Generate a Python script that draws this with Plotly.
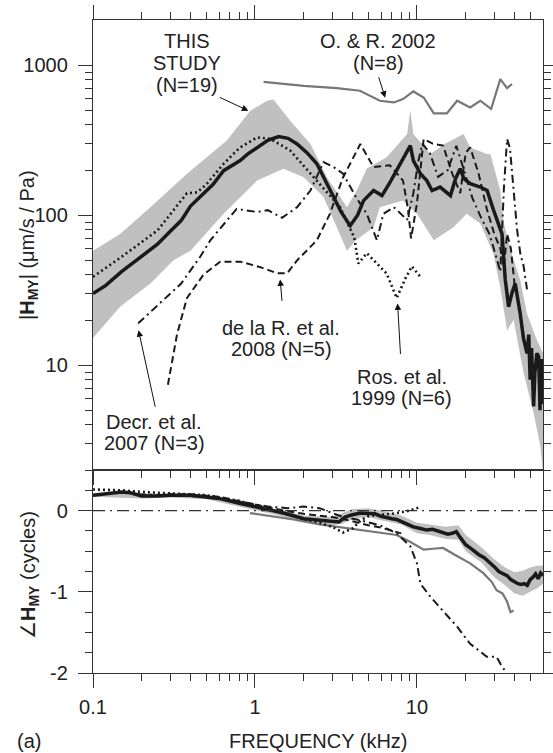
import math
import plotly.graph_objects as go

# ---------------- data ----------------
# THIS STUDY (N=19) magnitude mean
main_f = [0.1, 0.12, 0.15, 0.2, 0.25, 0.3, 0.35, 0.4, 0.46, 0.55, 0.64, 0.72, 0.81, 0.9, 1.03, 1.2, 1.4, 1.6,
          1.82, 2.1, 2.41, 2.7, 3.06, 3.4, 3.87, 4.3, 4.68, 5.4, 6.08, 6.8, 7.5, 8.3, 9.1, 9.5, 10.5, 11.5, 12.4,
          13.9, 16.1, 17.3, 18.5, 19.5, 21.3, 24.6, 27.1, 29.7, 33.5, 35.1, 36.8, 38.5, 40.4, 43.4, 45.5, 47.8,
          49, 50, 51, 52.5, 53.5, 55, 56.4, 57.5, 58.5, 60]
main_v = [30, 34, 42, 53, 64, 78, 92, 115, 132, 160, 198, 215, 231, 255, 283, 315, 334, 325,
          298, 260, 220, 170, 132, 105, 85, 100, 125, 146, 135, 165, 198, 240, 291, 231, 189, 170, 146,
          154, 135, 175, 204, 175, 162, 154, 146, 108, 75, 37, 24.5, 30, 35, 22, 15, 12,
          16, 8, 13, 5.3, 9, 12, 11.4, 5, 11, 5.5]
# THIS STUDY spread (upper / lower boundary)
band_up_f = [0.1, 0.147, 0.226, 0.38, 0.67, 0.935, 1.19, 1.3, 1.65, 2.2, 2.78, 3.7, 4.3, 4.9, 6.5, 8.7, 9.1, 9.5,
             12.1, 15, 19.4, 21.3, 27.1, 28.4, 32.7, 34.4, 39.5, 43.4, 47.8, 55, 60]
band_up_v = [58, 75, 113, 189, 314, 497, 579, 590, 426, 298, 179, 113, 150, 205, 243, 348, 500, 348,
             256, 300, 348, 283, 256, 256, 146, 88, 50, 37, 22, 14.7, 12]
band_lo_f = [0.1, 0.147, 0.226, 0.314, 0.4, 0.64, 1.03, 1.5, 2.0, 2.65, 3.2, 3.7, 4.2, 5.4, 5.9, 8.2, 10, 12.7,
             16.8, 20.3, 24.6, 29.7, 32.7, 36, 39.5, 45.5, 52.5, 57.7, 60]
band_lo_v = [15.2, 24.5, 35, 50, 58, 102, 170, 204, 179, 132, 83, 58, 68, 83, 113, 125, 102, 68,
             83, 102, 88, 55, 33, 17, 20, 8.9, 4.8, 2.9, 1.9]
# Ros. et al. 1999 (N=6)
ros_f = [0.1, 0.15, 0.25, 0.38, 0.44, 0.5, 0.64, 0.8, 1.03, 1.24, 1.65, 2.41, 3.35, 4.1, 4.35, 4.9, 6.5, 7.5,
         8.5, 9.3, 10.5]
ros_v = [38.8, 52.7, 79, 140, 142, 160, 220, 280, 330, 323, 270, 170, 113, 71, 47.6, 55.8, 40.8, 28,
         38, 45.6, 38.8]
# de la R. et al. 2008 (N=5)
dlr_f = [0.29, 0.33, 0.38, 0.48, 0.61, 0.81, 1.08, 1.37, 1.58, 1.82, 2.41, 2.9, 3.5, 4.47, 5.4, 6.8, 8.2, 8.8,
         9.2, 10.0, 11.0, 12.5, 14.5, 16.5, 18.5, 20.0, 21.3, 24, 27, 30, 32.7, 34.4, 36, 38, 40]
dlr_v = [7.4, 16, 28, 40, 49, 49, 45, 41, 41, 50, 68, 102, 179, 298, 209, 215, 170, 110,
         70, 120, 322, 300, 291, 190, 140, 260, 283, 190, 110, 75, 60, 45, 75, 60, 35]
# Decr. et al. 2007 (N=3)
dec_f = [0.19, 0.25, 0.35, 0.46, 0.53, 0.77, 1.03, 1.2, 1.47, 1.82, 2.2, 2.65, 3.06, 3.5, 4.2, 4.9, 5.66, 6.2,
         7.2, 8.7, 9.5, 10.2, 10.8, 12, 13.5, 15.5, 17.5, 19.5, 22, 25, 28, 30.5, 32.7, 34.4, 36, 37.5, 39.5,
         41.5, 43.5, 45.5, 47.8]
dec_v = [19, 25, 35, 53, 68, 110, 105, 108, 96, 113, 146, 226, 209, 189, 132, 102, 68, 102,
         113, 93, 140, 230, 300, 260, 180, 200, 290, 200, 130, 95, 75, 55, 42, 150, 322, 280, 146,
         80, 55, 46, 32]
# O. & R. 2002 (N=8)
oar_f = [1.13, 1.25, 2.0, 3.2, 4.45, 5.9, 7.2, 8.2, 9.5, 11, 12.7, 15.3, 17.7, 21.3, 24.6, 26.1, 28.7, 32.7,
         36, 38.6]
oar_v = [774, 766, 728, 703, 675, 579, 564, 594, 668, 609, 477, 477, 579, 522, 579, 551, 510, 807,
         703, 748]

# ---- phase (cycles) ----
ph_f = [0.1, 0.12, 0.15, 0.17, 0.2, 0.25, 0.3, 0.4, 0.5, 0.6, 0.8, 1.0, 1.2, 1.5, 2.0, 2.5, 3.0, 3.3, 3.6, 4.0,
        4.5, 5.0, 5.5, 6.0, 6.5, 7.0, 7.5, 8.5, 9.5, 10.5, 11.5, 12.5, 14, 15.5, 16.5, 17.5, 18.5, 20, 22, 24,
        26, 28, 30, 32, 34, 36, 38, 40, 42, 44, 46, 48, 50, 52, 54, 56, 58, 60]
ph_v = [0.19, 0.21, 0.23, 0.22, 0.18, 0.18, 0.19, 0.19, 0.17, 0.15, 0.09, 0.05, 0.01, -0.03, -0.1, -0.12,
        -0.13, -0.14, -0.08, -0.05, -0.03, -0.03, -0.04, -0.07, -0.08, -0.1, -0.11, -0.16, -0.2, -0.22,
        -0.24, -0.23, -0.26, -0.29, -0.28, -0.26, -0.33, -0.42, -0.48, -0.54, -0.58, -0.63, -0.69, -0.75,
        -0.77, -0.8, -0.85, -0.88, -0.9, -0.91, -0.9, -0.92, -0.85, -0.82, -0.78, -0.84, -0.77, -0.8]
phb_f = [0.1, 0.2, 0.3, 0.5, 0.8, 1.2, 2.0, 3.0, 3.5, 4.0, 5.0, 6.0, 8.0, 10, 12, 15, 18, 20, 25, 30, 35, 40,
         45, 50, 55, 60]
phb_up = [0.21, 0.21, 0.21, 0.19, 0.12, 0.04, -0.06, -0.08, -0.03, 0.02, 0.03, 0.0, -0.06, -0.15, -0.17,
          -0.2, -0.18, -0.3, -0.45, -0.6, -0.7, -0.76, -0.74, -0.7, -0.68, -0.68]
phb_lo = [0.17, 0.15, 0.16, 0.14, 0.05, -0.03, -0.14, -0.18, -0.16, -0.1, -0.08, -0.12, -0.17, -0.28,
          -0.3, -0.35, -0.36, -0.5, -0.64, -0.82, -0.92, -1.02, -1.05, -1.0, -0.96, -0.9]
ros_ph_f = [0.1, 0.15, 0.2, 0.3, 0.5, 0.8, 1.2, 1.8, 2.5, 3.0, 3.5, 4.0, 4.5, 5.0, 6.0, 7.0, 8.0, 9.0, 10.0,
            10.5]
ros_ph_v = [0.26, 0.25, 0.23, 0.21, 0.19, 0.12, 0.02, -0.08, -0.15, -0.2, -0.27, -0.22, -0.12, -0.07,
            -0.05, -0.04, -0.02, 0.0, 0.03, 0.04]
dlr_ph_f = [0.29, 0.4, 0.6, 1.0, 1.5, 2.0, 3.0, 4.0, 5.0, 6.0, 7.0, 8.0]
dlr_ph_v = [0.2, 0.2, 0.17, 0.08, 0.0, -0.04, -0.08, -0.13, -0.18, -0.21, -0.25, -0.28]
dec_ph_f = [0.19, 0.3, 0.5, 0.8, 1.2, 1.6, 2.0, 2.5, 3.0, 3.5, 4.5, 5.9, 7.5, 9.1, 10, 10.5, 12.1, 14.5, 17.7,
            21.3, 27, 31, 33.7, 36]
dec_ph_v = [0.2, 0.19, 0.17, 0.11, 0.05, 0.03, 0.05, 0.03, -0.03, -0.08, -0.12, -0.18, -0.28, -0.44, -0.65,
            -0.9, -1.06, -1.23, -1.43, -1.64, -1.8, -1.8, -1.93, -2.0]
oar_ph_f = [0.93, 1.3, 1.73, 2.5, 3.5, 5, 7.5, 9, 11, 12.5, 14.5, 17, 21.3, 25.7, 29, 31, 33.7, 36, 37.8, 39.5]
oar_ph_v = [-0.03, -0.07, -0.11, -0.17, -0.21, -0.25, -0.3, -0.38, -0.48, -0.47, -0.46, -0.54, -0.65, -0.77,
            -0.88, -0.98, -1.02, -1.12, -1.25, -1.23]

x_ticks = [0.1, 1, 10]
x_ticktext = ["0.1", "1", "10"]
x_minor = [0.2, 0.3, 0.4, 0.5, 0.6, 0.7, 0.8, 0.9, 2, 3, 4, 5, 6, 7, 8, 9, 20, 30, 40, 50]
mag_ticks = [10, 100, 1000]
mag_minor = [2, 3, 4, 5, 6, 7, 8, 9, 20, 30, 40, 50, 60, 70, 80, 90, 200, 300, 400, 500, 600, 700, 800, 900]
ph_ticks = [-2, -1, 0]
ph_minor = [-1.75, -1.5, -1.25, -0.75, -0.5, -0.25, 0.25]

# ---------------- figure ----------------
W, H = 553, 753
ML, MR, MT, MB = 93, 10, 20, 80
PW, PH = W - ML - MR, H - MT - MB
split = (673 - 470) / PH

FONT = "Liberation Sans, Arial, Helvetica, sans-serif"
FS = 20
TXT = "#222222"
BAND = "#c0c0c0"
BLK = "#1a1a1a"

fig = go.Figure()

# magnitude band
fig.add_trace(go.Scatter(x=band_up_f + band_lo_f[::-1], y=band_up_v + band_lo_v[::-1], fill="toself",
                         fillcolor=BAND, line=dict(width=0), mode="lines", hoverinfo="skip",
                         xaxis="x", yaxis="y"))
fig.add_trace(go.Scatter(x=oar_f, y=oar_v, mode="lines", line=dict(color="#777777", width=2.2),
                         xaxis="x", yaxis="y"))
fig.add_trace(go.Scatter(x=dlr_f, y=dlr_v, mode="lines", line=dict(color=BLK, width=2, dash="7px,4px"),
                         xaxis="x", yaxis="y"))
fig.add_trace(go.Scatter(x=dec_f, y=dec_v, mode="lines",
                         line=dict(color=BLK, width=2, dash="8px,4px,2px,4px"), xaxis="x", yaxis="y"))
fig.add_trace(go.Scatter(x=ros_f, y=ros_v, mode="lines", line=dict(color=BLK, width=2.6, dash="2px,3px"),
                         xaxis="x", yaxis="y"))
fig.add_trace(go.Scatter(x=main_f, y=main_v, mode="lines", line=dict(color=BLK, width=3.5),
                         xaxis="x", yaxis="y"))

# phase
fig.add_trace(go.Scatter(x=phb_f + phb_f[::-1], y=phb_up + phb_lo[::-1], fill="toself", fillcolor=BAND,
                         line=dict(width=0), mode="lines", hoverinfo="skip", xaxis="x2", yaxis="y2"))
fig.add_trace(go.Scatter(x=oar_ph_f, y=oar_ph_v, mode="lines", line=dict(color="#777777", width=2.2),
                         xaxis="x2", yaxis="y2"))
fig.add_trace(go.Scatter(x=dlr_ph_f, y=dlr_ph_v, mode="lines", line=dict(color=BLK, width=2, dash="7px,4px"),
                         xaxis="x2", yaxis="y2"))
fig.add_trace(go.Scatter(x=dec_ph_f, y=dec_ph_v, mode="lines",
                         line=dict(color=BLK, width=2, dash="8px,4px,2px,4px"), xaxis="x2", yaxis="y2"))
fig.add_trace(go.Scatter(x=ros_ph_f, y=ros_ph_v, mode="lines", line=dict(color=BLK, width=2.6, dash="2px,3px"),
                         xaxis="x2", yaxis="y2"))
fig.add_trace(go.Scatter(x=ph_f, y=ph_v, mode="lines", line=dict(color=BLK, width=3.5),
                         xaxis="x2", yaxis="y2"))

axcommon = dict(showline=True, linecolor="#333333", linewidth=1.3, showgrid=False, zeroline=False,
                ticks="outside", tickcolor="#333333", tickwidth=1.2, ticklen=14, automargin=False,
                tickfont=dict(family=FONT, size=FS, color=TXT))
xr = [-1, math.log10(60)]
minor_style = dict(ticks="outside", ticklen=7, tickcolor="#333333", tickwidth=1.2, tickmode="array")

fig.update_layout(
    width=W, height=H, margin=dict(l=ML, r=MR, t=MT, b=MB, autoexpand=False),
    paper_bgcolor="white", plot_bgcolor="white", showlegend=False,
    xaxis=dict(axcommon, type="log", range=xr, domain=[0, 1], anchor="y", mirror="allticks",
               tickmode="array", tickvals=x_ticks, showticklabels=False,
               minor=dict(minor_style, tickvals=x_minor)),
    yaxis=dict(axcommon, type="log", range=[math.log10(2), math.log10(2000)], domain=[split, 1], anchor="x",
               mirror="allticks", tickmode="array", tickvals=mag_ticks, ticktext=[str(t) for t in mag_ticks],
               ticklabelstandoff=6, minor=dict(minor_style, tickvals=mag_minor)),
    xaxis2=dict(axcommon, type="log", range=xr, domain=[0, 1], anchor="y2", mirror=True,
                tickmode="array", tickvals=x_ticks, ticktext=x_ticktext, ticklabelstandoff=2,
                minor=dict(minor_style, tickvals=x_minor)),
    yaxis2=dict(axcommon, range=[-2, 0.5], domain=[0, split], anchor="x2", mirror="allticks",
                tickmode="array", tickvals=ph_ticks, ticktext=[str(t) for t in ph_ticks], ticklabelstandoff=6,
                minor=dict(minor_style, tickvals=ph_minor)),
)

# zero reference line in phase panel
fig.add_shape(type="line", xref="x2 domain", yref="y2", x0=0, x1=1, y0=0, y1=0,
              line=dict(color="#333333", width=1.1, dash="12px,5px,2px,5px"))


def px(xp):
    return (xp - ML) / PW


def py(yp):
    return (MT + PH - yp) / PH


def label(text, xp, yp, size=FS, **kw):
    fig.add_annotation(text=text, x=px(xp), y=py(yp), xref="paper", yref="paper", showarrow=False,
                       xanchor="center", yanchor="middle",
                       font=dict(family=FONT, size=size, color=TXT), **kw)


for t, xp, yp in [("THIS", 187, 41), ("STUDY", 187, 63), ("(N=19)", 187, 85),
                  ("O. &amp; R. 2002", 378, 41), ("(N=8)", 378, 63),
                  ("de la R. et al.", 281, 328), ("2008 (N=5)", 281, 349),
                  ("Ros. et al.", 402, 377), ("1999 (N=6)", 401, 398),
                  ("Decr. et al.", 154, 422), ("2007 (N=3)", 154, 443),
                  ("FREQUENCY (kHz)", 318, 741), ("(a)", 29, 741)]:
    label(t, xp, yp)

label("|<b>H<sub>MY</sub></b>| (μm/s / Pa)", 29, 245, textangle=-90)
label("∠<b>H<sub>MY</sub></b> (cycles)", 29, 575, textangle=-90)

# arrows (tip in data coordinates, tail offset in pixels)
for f, v, ax, ay in [(0.91, 497, -30, -14), (6.37, 606, -7, -22), (1.43, 37.3, 2, 23),
                     (7.59, 25.8, 3, 52), (0.191, 17.1, 17, 78)]:
    fig.add_annotation(x=math.log10(f), y=math.log10(v), xref="x", yref="y", ax=ax, ay=ay, text="",
                       showarrow=True, arrowhead=2, arrowsize=1.3, arrowwidth=1, arrowcolor="#111111",
                       standoff=0)

fig.write_html("out.html")
